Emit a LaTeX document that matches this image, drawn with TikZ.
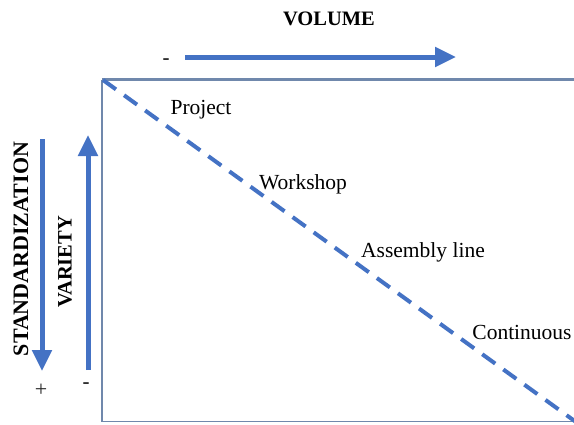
\documentclass[tikz,border=0pt]{standalone}
\usepackage{fontspec}
\setmainfont{Liberation Serif}
\usetikzlibrary{arrows.meta}
\definecolor{arrowblue}{HTML}{4472C4}
\definecolor{framecol}{HTML}{7088AC}
\tikzset{
  bigarrow/.style={draw=arrowblue, line width=5pt, -{Triangle[length=21pt,width=19pt]}},
  lbl/.style={font=\fontsize{21.5}{24}\selectfont, inner sep=0pt},
  title/.style={font=\fontsize{20.5}{24}\selectfont\bfseries, inner sep=0pt},
  sign/.style={font=\fontsize{21}{24}\selectfont\bfseries, inner sep=0pt, text=black!85}
}
\begin{document}
\begin{tikzpicture}[x=1pt,y=-1pt]
\useasboundingbox (0,0) rectangle (574,424);
% frame
\coordinate (tl) at (102,79.5);
\coordinate (tr) at (576,79.5);
\coordinate (bl) at (102,421.5);
\coordinate (br) at (576,421.5);
\draw[framecol, line width=2.2pt] (tl) -- (tr);
\draw[framecol, line width=1.3pt] (tl) -- (bl) -- (br);
% dashed diagonal
\coordinate (dstart) at (103,80);
\coordinate (dend) at (576,422);
\draw[arrowblue, line width=4pt, dash pattern=on 16pt off 10pt] (dstart) -- (dend);
% volume arrow
\node[title] (volume) at (329,19) {VOLUME};
\coordinate (vs) at (185,57);
\coordinate (ve) at (456,57);
\draw[bigarrow] (vs) -- (ve);
\node[sign] (vminus) at (166,62) {-};
% standardization arrow (down)
\coordinate (ss) at (42,139);
\coordinate (se) at (42,371);
\draw[bigarrow] (ss) -- (se);
\node[title, rotate=90, font=\fontsize{22}{26}\selectfont\bfseries] (stand) at (21,249) {STANDARDIZATION};
\node[sign, font=\fontsize{22}{24}\selectfont] (splus) at (41,390) {+};
% variety arrow (up)
\coordinate (ys) at (88,370);
\coordinate (ye) at (88,135);
\draw[bigarrow] (ys) -- (ye);
\node[title, rotate=90] (variety) at (65,262) {VARIETY};
\node[sign] (yminus) at (86,386) {-};
% labels
\node[lbl] (project) at (201,110) {Project};
\node[lbl] (workshop) at (303,184) {Workshop};
\node[lbl] (assembly) at (423,252) {Assembly line};
\node[lbl] (cont) at (522,332) {Continuous};
\end{tikzpicture}
\end{document}
